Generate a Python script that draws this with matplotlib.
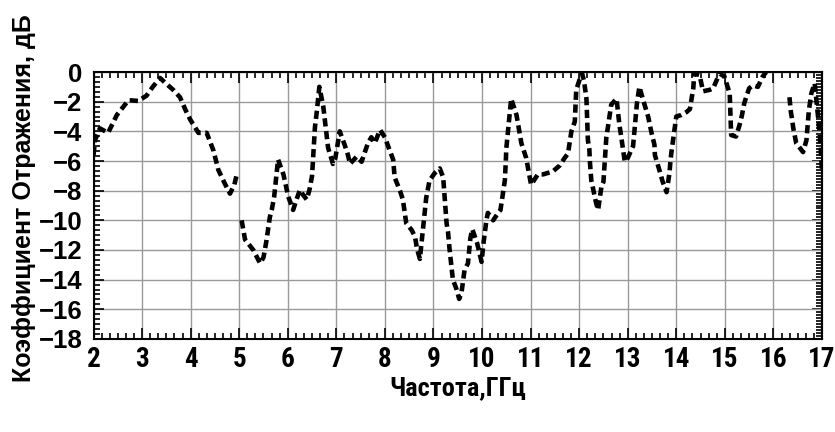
#!/usr/bin/env python3

import numpy as np
import matplotlib
matplotlib.use('Agg')
import matplotlib.pyplot as plt
from matplotlib.ticker import AutoMinorLocator

# measured reflection coefficient vs frequency (nan = no data)
freq_ghz = [2.00, 2.03, 2.13, 2.30, 2.48, 2.72, 2.92, 3.09, 3.22, 3.37, 3.50, 3.64, 3.78, 3.90,
            3.99, 4.16, 4.33, 4.47, 4.57, 4.70, 4.81, 4.90, 4.95, 4.98, 5.05, 5.12, 5.29, 5.43,
            5.50, 5.56, 5.63, 5.67, 5.72, 5.80, 5.91, 6.01, 6.11, 6.18, 6.25, 6.32, 6.39, 6.45,
            6.50, 6.52, 6.56, 6.60, 6.65, 6.73, 6.83, 6.93, 6.98, 7.07, 7.17, 7.24, 7.28, 7.42,
            7.52, 7.65, 7.72, 7.79, 7.90, 8.00, 8.10, 8.17, 8.20, 8.31, 8.37, 8.44, 8.55, 8.62,
            8.66, 8.72, 8.82, 8.85, 8.92, 9.03, 9.13, 9.20, 9.27, 9.30, 9.33, 9.40, 9.47, 9.53,
            9.58, 9.64, 9.71, 9.76, 9.80, 9.90, 9.99, 10.03, 10.09, 10.12, 10.23, 10.33, 10.38,
            10.47, 10.49, 10.50, 10.60, 10.71, 10.81, 10.91, 11.01, 11.15, 11.26, 11.46, 11.60,
            11.70, 11.77, 11.84, 11.91, 11.94, 12.01, 12.06, 12.10, 12.15, 12.18, 12.21, 12.22,
            12.25, 12.35, 12.39, 12.46, 12.50, 12.56, 12.60, 12.66, 12.77, 12.83, 12.85, 12.94,
            13.00, 13.11, 13.16, 13.19, 13.24, 13.31, 13.42, 13.49, 13.55, 13.56, 13.66, 13.72,
            13.80, 13.86, 13.88, 13.90, 14.00, 14.10, 14.21, 14.28, 14.35, 14.37, 14.48, 14.55,
            14.69, 14.76, 14.89, 14.99, 15.10, 15.13, 15.23, 15.30, 15.35, 15.40, 15.50, 15.58,
            15.68, 15.78, 15.85, 16.10, 16.33, 16.36, 16.38, 16.41, 16.47, 16.61, 16.68, 16.70,
            16.73, 16.78, 16.85, 16.95, 17.00]
refl_db = [-5.6, -4.6, -3.8, -4.1, -2.9, -1.9, -1.95, -1.6, -1.0, -0.4, -0.8, -1.2, -1.7, -2.6,
           -3.2, -4.1, -4.1, -5.3, -6.6, -7.5, -8.2, -7.6, -6.9, np.nan, -10.0, -11.3, -12.0, -12.9,
           -12.5, -11.4, -9.8, -9.3, -8.4, -5.9, -6.9, -8.4, -9.3, -8.6, -7.95, -8.3, -8.6, -7.9,
           -7.0, -5.9, -3.7, -2.6, -1.0, -2.3, -5.1, -6.2, -5.8, -4.0, -4.9, -5.6, -6.2, -5.7,
           -6.05, -4.8, -4.4, -4.8, -3.9, -4.4, -5.3, -5.9, -7.1, -8.0, -8.6, -10.2, -10.65, -11.1,
           -11.9, -12.6, -9.5, -8.5, -7.3, -6.8, -6.5, -7.1, -10.2, -10.8, -11.9, -14.0, -14.6, -15.3,
           -14.8, -13.35, -12.9, -11.2, -10.6, -11.55, -12.8, -11.55, -10.0, -9.5, -10.0, -9.5, -9.3,
           -7.3, -6.0, -5.15, -1.8, -2.9, -4.8, -5.8, -7.6, -6.9, -6.9, -6.7, -6.3,
           -5.8, -5.5, -4.0, -3.35, -1.2, -0.5, -0.1, -0.6, -1.8, -4.6, -5.2, -6.0,
           -7.3, -8.85, -9.3, -7.7, -7.4, -4.4, -3.55, -2.2, -1.8, -3.6, -4.0, -6.05,
           -5.8, -5.0, -3.2, -2.1, -1.0, -1.8, -3.0, -4.1, -4.9, -5.6, -6.7, -7.4,
           -8.1, -6.8, -6.0, -5.4, -3.0, -2.9, -2.7, -2.5, -1.1, -0.1, -0.2, -1.3,
           -1.2, -1.1, -0.1, -0.3, -1.45, -4.25, -4.35, -3.6, -2.95, -2.1, -1.1, -0.9,
           -1.0, -0.3, 0.0, np.nan, -1.7, -2.7, -3.1, -3.8, -4.8, -5.4, -4.6, -3.8,
           -2.6, -1.45, -0.76, -4.0, -6.6]

x_ticks = list(range(2, 18))
y_ticks = list(range(-18, 1, 2))

narrow = ['Liberation Sans Narrow', 'DejaVu Sans Condensed', 'Roboto Condensed',
          'Liberation Sans', 'DejaVu Sans']
plt.rcParams['font.family'] = ['Liberation Sans', 'DejaVu Sans']
plt.rcParams['font.weight'] = 'bold'

fig = plt.figure(figsize=(8.35, 4.32), dpi=100)
ax = fig.add_axes([0.112, 0.2153, 0.8724, 0.618])

ax.plot(freq_ghz, refl_db, color='black', lw=3.3,
        linestyle=(0, (1.8, 1.0)), solid_capstyle='butt', zorder=3)

ax.set_xlim(2, 17)
ax.set_ylim(-18, 0)
ax.set_xticks(x_ticks)
ax.set_yticks(y_ticks)
ax.xaxis.set_minor_locator(AutoMinorLocator(6))
ax.yaxis.set_minor_locator(AutoMinorLocator(6))
ax.grid(True, which='major', color='#9a9a9a', lw=1.0)

ax.tick_params(which='both', direction='in', top=True, right=False, width=1.2, color='black')
ax.tick_params(which='major', length=8)
ax.tick_params(which='minor', length=4)
ax.tick_params(axis='y', which='major', length=7)
ax.tick_params(axis='x', labelsize=19.5, labelfontfamily=narrow, pad=5)
ax.tick_params(axis='y', labelsize=18.5, pad=8)

# denser minor ticks on the right edge
sec = ax.secondary_yaxis('right')
sec.set_yticks(y_ticks)
sec.yaxis.set_minor_locator(AutoMinorLocator(10))
sec.tick_params(which='both', direction='in', labelright=False, width=1.2)
sec.tick_params(which='major', length=7)
sec.tick_params(which='minor', length=4)
sec.spines['right'].set_linewidth(1.5)

for s in ax.spines.values():
    s.set_linewidth(1.5)

ax.set_xlabel('Частота,ГГц', family=narrow, fontsize=19, fontweight='bold')
ax.xaxis.set_label_coords(0.5, -0.14)
ax.set_ylabel('Коэффициент Отражения, дБ', fontsize=18, fontweight='bold')
ax.yaxis.set_label_coords(-0.079, 0.528)

fig.savefig('out.png', dpi=100)
